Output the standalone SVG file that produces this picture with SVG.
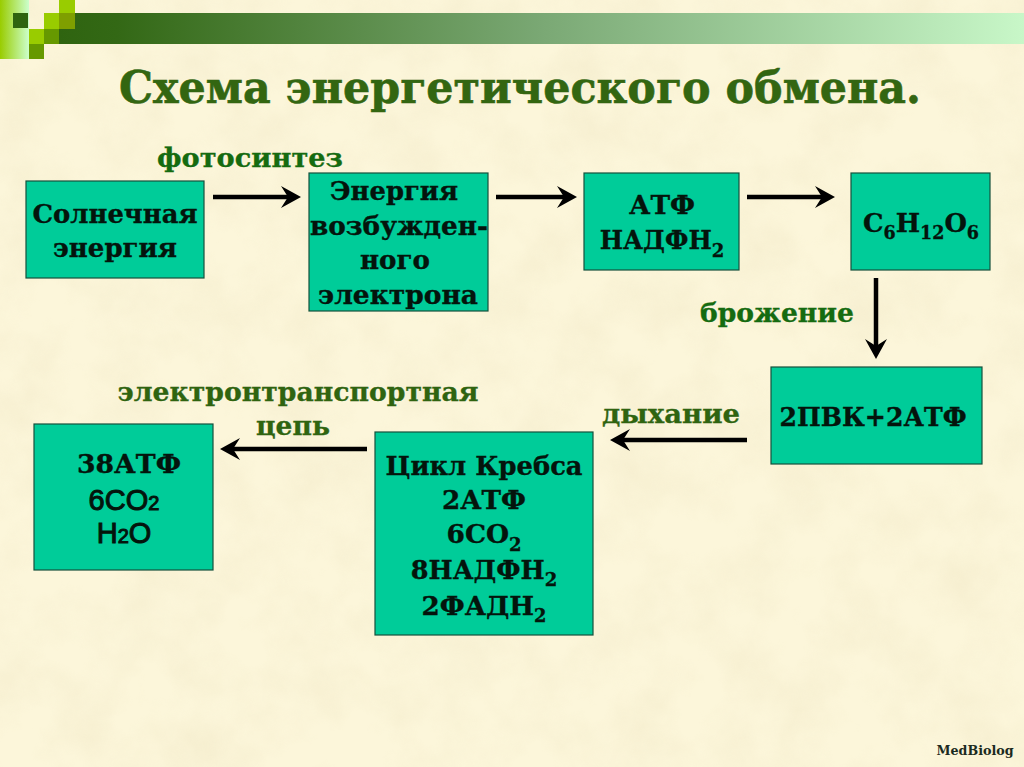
<svg xmlns="http://www.w3.org/2000/svg" width="1024" height="767" viewBox="0 0 1024 767">
<style>
.n{fill:#00cc99;stroke:#14503c;stroke-width:1.2}
.t{font-family:"DejaVu Serif","Liberation Serif",serif;font-weight:bold;font-size:26.5px;fill:#04140c;stroke:#04140c;stroke-width:.35px;text-anchor:middle}
.a{font-family:"Liberation Sans",Arial,sans-serif;font-size:29px;font-weight:normal;stroke-width:1px}
.s{font-size:18px}
.l{font-family:"DejaVu Serif","Liberation Serif",serif;font-weight:bold;font-size:26px;fill:#2f6410;stroke:#2f6410;stroke-width:.3px;text-anchor:middle}
.g{fill:#156b10;stroke:#156b10}
.c{stroke:#000;stroke-width:4.5;fill:none;marker-end:url(#ah)}
</style>
<defs>
<linearGradient id="bar"><stop offset="0" stop-color="#2f6410"/><stop offset=".06" stop-color="#336815"/><stop offset=".5" stop-color="#7aa874"/><stop offset="1" stop-color="#c8f7c8"/></linearGradient>
<linearGradient id="strip"><stop offset="0" stop-color="#99cc00"/><stop offset="1" stop-color="#ccffcc"/></linearGradient>
<marker id="ah" markerUnits="userSpaceOnUse" markerWidth="24" markerHeight="24" refX="10" refY="11" orient="auto"><path d="M1 0L21 11L1 22L8 11Z" fill="#000"/></marker>
<filter id="tex" x="0" y="0" width="100%" height="100%"><feTurbulence type="fractalNoise" baseFrequency=".018" numOctaves="4" seed="7"/><feColorMatrix values="0 0 0 0 .82  0 0 0 0 .74  0 0 0 0 .5  .9 0 0 0 -.32"/></filter>
</defs>
<rect width="1024" height="767" fill="#fcf6da"/>
<rect width="1024" height="767" filter="url(#tex)" opacity=".6"/>
<g id="header">
<rect x="59" y="13" width="965" height="31" fill="url(#bar)"/>
<rect x="0" y="0" width="29" height="59" fill="url(#strip)"/>
<rect x="13" y="13" width="15" height="15" fill="#2f6410"/>
<rect x="44" y="13" width="15" height="16" fill="#99cc00"/>
<rect x="59" y="0" width="16" height="13" fill="#99cc00"/>
<rect x="59" y="13" width="16" height="16" fill="#7f9f00"/>
<rect x="29" y="29" width="15" height="15" fill="#99cc00"/>
<rect x="44" y="29" width="15" height="15" fill="#669900"/>
<rect x="29" y="44" width="15" height="15" fill="#669900"/>
</g>
<text x="520" y="103" font-family="'DejaVu Serif','Liberation Serif',serif" font-weight="bold" font-size="44" fill="#336611" stroke="#336611" stroke-width=".6" text-anchor="middle" textLength="802" lengthAdjust="spacingAndGlyphs">Схема энергетического обмена.</text>
<g id="connectors">
<line class="c" x1="213" y1="197" x2="290" y2="197"/>
<line class="c" x1="496" y1="197" x2="566" y2="197"/>
<line class="c" x1="747" y1="197" x2="824" y2="197"/>
<line class="c" x1="876" y1="278" x2="876" y2="348"/>
<line class="c" x1="747" y1="440" x2="621" y2="440"/>
<line class="c" x1="367" y1="449" x2="231" y2="449"/>
</g>
<g id="label-photosynthesis"><text class="l g" x="250" y="167" textLength="186" lengthAdjust="spacingAndGlyphs">фотосинтез</text></g>
<g id="label-fermentation"><text class="l g" x="777" y="322" textLength="154" lengthAdjust="spacingAndGlyphs">брожение</text></g>
<g id="label-respiration"><text class="l" x="671" y="423" textLength="138" lengthAdjust="spacingAndGlyphs">дыхание</text></g>
<g id="label-etc"><text class="l" x="298" y="401" textLength="361" lengthAdjust="spacingAndGlyphs">электронтранспортная</text><text class="l" x="293" y="435" textLength="74" lengthAdjust="spacingAndGlyphs">цепь</text></g>
<g id="node-sun"><rect class="n" x="26" y="181" width="178" height="97"/>
<text class="t" x="115" y="223" textLength="165" lengthAdjust="spacingAndGlyphs">Солнечная</text><text class="t" x="115" y="257" textLength="124" lengthAdjust="spacingAndGlyphs">энергия</text></g>
<g id="node-electron"><rect class="n" x="309" y="173" width="179" height="138"/>
<text class="t" x="394" y="200" textLength="128" lengthAdjust="spacingAndGlyphs">Энергия</text><text class="t" x="399" y="235" textLength="178" lengthAdjust="spacingAndGlyphs">возбужден-</text><text class="t" x="395" y="269" textLength="70" lengthAdjust="spacingAndGlyphs">ного</text><text class="t" x="398" y="304" textLength="160" lengthAdjust="spacingAndGlyphs">электрона</text></g>
<g id="node-atp"><rect class="n" x="584" y="173" width="155" height="97"/>
<text class="t" x="662" y="214" textLength="66" lengthAdjust="spacingAndGlyphs">АТФ</text><text class="t" x="662" y="249"><tspan textLength="112" lengthAdjust="spacingAndGlyphs">НАДФН</tspan><tspan class="s" dy="8">2</tspan></text></g>
<g id="node-glucose"><rect class="n" x="851" y="173" width="139" height="97"/>
<text class="t" x="921" y="232" textLength="116" lengthAdjust="spacingAndGlyphs">С<tspan class="s" dy="7">6</tspan><tspan dy="-7">Н</tspan><tspan class="s" dy="7">12</tspan><tspan dy="-7">О</tspan><tspan class="s" dy="7">6</tspan></text></g>
<g id="node-pvk"><rect class="n" x="771" y="367" width="211" height="97"/>
<text class="t" x="873" y="426" textLength="187" lengthAdjust="spacingAndGlyphs">2ПВК+2АТФ</text></g>
<g id="node-krebs"><rect class="n" x="375" y="432" width="218" height="203"/>
<text class="t" x="484" y="475" textLength="197" lengthAdjust="spacingAndGlyphs">Цикл Кребса</text><text class="t" x="484" y="509" textLength="84" lengthAdjust="spacingAndGlyphs">2АТФ</text><text class="t" x="484" y="543" textLength="75" lengthAdjust="spacingAndGlyphs">6СО<tspan class="s" dy="8">2</tspan></text><text class="t" x="484" y="579"><tspan textLength="134" lengthAdjust="spacingAndGlyphs">8НАДФН</tspan><tspan class="s" dy="7">2</tspan></text><text class="t" x="484" y="615" textLength="125" lengthAdjust="spacingAndGlyphs">2ФАДН<tspan class="s" dy="7">2</tspan></text></g>
<g id="node-final"><rect class="n" x="34" y="424" width="179" height="146"/>
<text class="t" x="129" y="473" textLength="104" lengthAdjust="spacingAndGlyphs">38АТФ</text><text class="t a" x="124" y="510">6CO<tspan font-size="20">2</tspan></text><text class="t a" x="124" y="543">H<tspan font-size="20">2</tspan>O</text></g>
<text x="975" y="755" font-family="'DejaVu Serif',serif" font-weight="bold" font-size="12" fill="#1a2a20" text-anchor="middle" textLength="77" lengthAdjust="spacingAndGlyphs">MedBiolog</text>
</svg>
